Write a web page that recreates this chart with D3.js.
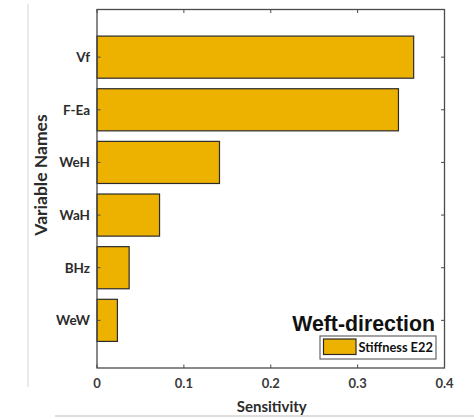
<!DOCTYPE html>
<html>
<head>
<meta charset="utf-8">
<script src="https://cdn.jsdelivr.net/npm/d3@7"></script>
<style>
  html, body { margin: 0; padding: 0; background: #fff; }
  svg { display: block; }
</style>
</head>
<body>
<svg id="chart" width="474" height="419"></svg>
<script>
// Sensitivity of the weft-direction stiffness E22 to each input variable
const categories = ["Vf", "F-Ea", "WeH", "WaH", "BHz", "WeW"];
const sensitivity = [0.3645, 0.347, 0.141, 0.072, 0.037, 0.0235];
const xTicks = [0, 0.1, 0.2, 0.3, 0.4];
const seriesName = "Stiffness E22";
const title = "Weft-direction";

const svg = d3.select("#chart");
const box = { left: 97, right: 444.5, top: 9.5, bottom: 368 };
const axisColor = "#4a4a4a";
const barColor = "#EDB100";
const labelFont = "Lato, 'Open Sans', sans-serif";

// page decorations: thin grey rules at the left and bottom
svg.append("line").attr("x1", 28).attr("x2", 28).attr("y1", 4).attr("y2", 387)
  .attr("stroke", "#d4d4d4").attr("stroke-width", 1);
svg.append("line").attr("x1", 55).attr("x2", 474).attr("y1", 416).attr("y2", 416)
  .attr("stroke", "#bdbdbd").attr("stroke-width", 1.2);

const x = d3.scaleLinear().domain([0, 0.4]).range([box.left, box.right]);
// categories sit at positions 1..6, axis spans roughly 0.09..6.91
const y = d3.scaleLinear().domain([0.095, 6.905]).range([box.top, box.bottom]);
const barH = 0.8;

// bars
svg.append("g").selectAll("rect").data(categories).join("rect")
  .attr("x", x(0))
  .attr("y", (d, i) => y(i + 1 - barH / 2))
  .attr("width", (d, i) => x(sensitivity[i]) - x(0))
  .attr("height", y(barH) - y(0))
  .attr("fill", barColor)
  .attr("stroke", "#2b2b2b")
  .attr("stroke-width", 1.2);

// axis box
svg.append("rect")
  .attr("x", box.left).attr("y", box.top)
  .attr("width", box.right - box.left).attr("height", box.bottom - box.top)
  .attr("fill", "none").attr("stroke", axisColor).attr("stroke-width", 1.3);

const tickLen = 3.5;
const ticks = svg.append("g").attr("stroke", axisColor).attr("stroke-width", 1);
xTicks.forEach(t => {
  ticks.append("line").attr("x1", x(t)).attr("x2", x(t))
    .attr("y1", box.bottom).attr("y2", box.bottom - tickLen);
  ticks.append("line").attr("x1", x(t)).attr("x2", x(t))
    .attr("y1", box.top).attr("y2", box.top + tickLen);
});
categories.forEach((c, i) => {
  ticks.append("line").attr("x1", box.left).attr("x2", box.left + tickLen)
    .attr("y1", y(i + 1)).attr("y2", y(i + 1));
  ticks.append("line").attr("x1", box.right).attr("x2", box.right - tickLen)
    .attr("y1", y(i + 1)).attr("y2", y(i + 1));
});

// x tick labels
svg.append("g").selectAll("text").data(xTicks).join("text")
  .attr("x", d => x(d)).attr("y", 383)
  .attr("text-anchor", "middle").attr("dominant-baseline", "central")
  .attr("font-family", labelFont).attr("font-weight", "bold").attr("font-size", 13)
  .attr("fill", "#3a3a3a")
  .text(d => d === 0 ? "0" : d3.format(".1f")(d));

// category labels
svg.append("g").selectAll("text").data(categories).join("text")
  .attr("x", 90).attr("y", (d, i) => y(i + 1))
  .attr("text-anchor", "end").attr("dominant-baseline", "central")
  .attr("font-family", labelFont).attr("font-weight", "bold").attr("font-size", 13.5)
  .attr("fill", "#2b2b2b")
  .text(d => d);

// axis titles
svg.append("text")
  .attr("x", (box.left + box.right) / 2 + 1).attr("y", 406)
  .attr("text-anchor", "middle").attr("dominant-baseline", "central")
  .attr("font-family", labelFont).attr("font-weight", "bold").attr("font-size", 15)
  .attr("fill", "#2b2b2b")
  .text("Sensitivity");
svg.append("text")
  .attr("transform", "translate(40,175) rotate(-90)")
  .attr("text-anchor", "middle").attr("dominant-baseline", "central")
  .attr("font-family", labelFont).attr("font-weight", "bold").attr("font-size", 17.5)
  .attr("fill", "#2b2b2b")
  .text("Variable Names");

// in-plot title
svg.append("text")
  .attr("x", 435).attr("y", 331)
  .attr("text-anchor", "end")
  .attr("font-family", "'Liberation Sans', Arial, sans-serif").attr("font-weight", "bold")
  .attr("font-size", 21.3).attr("fill", "#111")
  .text(title);

// legend
const lg = svg.append("g");
lg.append("rect").attr("x", 320).attr("y", 336).attr("width", 116).attr("height", 23)
  .attr("fill", "#fff").attr("stroke", "#666").attr("stroke-width", 1.2);
lg.append("rect").attr("x", 323.5).attr("y", 339).attr("width", 32.5).attr("height", 15.5)
  .attr("fill", barColor).attr("stroke", "#2b2b2b").attr("stroke-width", 1.2);
lg.append("text").attr("x", 358.5).attr("y", 347)
  .attr("dominant-baseline", "central")
  .attr("font-family", labelFont).attr("font-weight", "bold").attr("font-size", 12.8)
  .attr("fill", "#111")
  .text(seriesName);
</script>
</body>
</html>
